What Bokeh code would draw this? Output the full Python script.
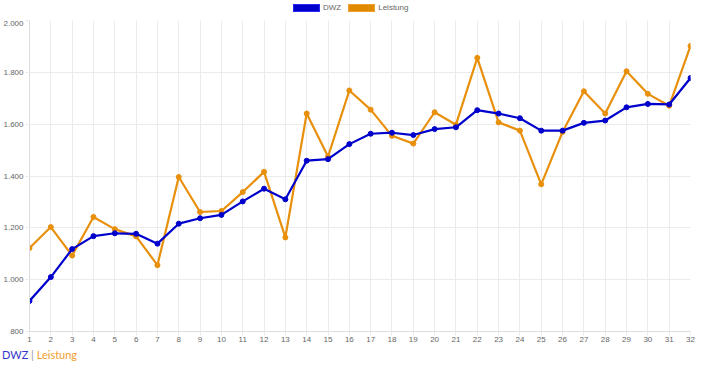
from bokeh.plotting import figure
from bokeh.models import FixedTicker, Div, Range1d
from bokeh.layouts import column
from bokeh.embed import file_html
from bokeh.resources import INLINE

rounds = list(range(1, 33))
dwz = [918, 1010, 1118, 1168, 1179, 1177, 1139, 1216, 1237, 1250, 1302, 1351,
       1310, 1459, 1465, 1523, 1563, 1567, 1558, 1581, 1588, 1654, 1641, 1623,
       1575, 1575, 1605, 1614, 1665, 1678, 1676, 1778]
leistung = [1122, 1203, 1093, 1242, 1195, 1167, 1056, 1396, 1261, 1265, 1338, 1416,
            1163, 1641, 1475, 1730, 1656, 1555, 1525, 1646, 1598, 1856, 1607, 1575,
            1368, 1570, 1727, 1641, 1804, 1717, 1671, 1902]
y_ticks = [800, 1000, 1200, 1400, 1600, 1800, 2000]
y_tick_labels = ["800", "1.000", "1.200", "1.400", "1.600", "1.800", "2.000"]
series_names = ["DWZ", "Leistung"]

BLUE = "#0000cc"
ORANGE = "#e8900c"
GRID = "#ebebeb"
TICKC = "#666666"
FONT = "Liberation Sans"

# ---- legend (HTML, above the chart) ----
box_style = ("display:inline-block;width:27px;height:8px;box-sizing:border-box;"
             "background:{fill};border:1px solid {edge};")
legend_html = (
    f'<div style="display:flex;align-items:center;height:8px;padding-top:5px;padding-left:293px;'
    f'font-family:{FONT};font-size:8px;color:{TICKC};white-space:nowrap;">'
    f'<span style="{box_style.format(fill=BLUE, edge="#2a2aee")}"></span>'
    f'<span style="margin-left:3px;">{series_names[0]}</span>'
    f'<span style="margin-left:7px;{box_style.format(fill="#e08a00", edge="#f0a030")}"></span>'
    f'<span style="margin-left:3px;">{series_names[1]}</span>'
    f'</div>'
)
legend_div = Div(text=legend_html, width=700, height=20, margin=(0, 0, 0, 0))

# ---- chart ----
p = figure(width=700, height=324, output_backend="svg", toolbar_location=None,
           x_range=Range1d(1, 32), y_range=Range1d(800, 2000),
           min_border_left=0, min_border_right=10, min_border_top=0, min_border_bottom=0)
p.outline_line_color = None
p.background_fill_color = "white"
p.border_fill_color = "white"

for ax in (p.xaxis[0], p.yaxis[0]):
    ax.axis_line_color = "#dcdcdc"
    ax.major_tick_line_color = GRID
    ax.major_tick_in = 0
    ax.major_tick_out = 4
    ax.minor_tick_line_color = None
    ax.major_label_text_font = FONT
    ax.major_label_text_font_size = "8px"
    ax.major_label_text_color = TICKC
    ax.major_label_standoff = 2
p.xaxis.major_label_standoff = 1

p.xaxis.ticker = FixedTicker(ticks=rounds)
p.yaxis.ticker = FixedTicker(ticks=y_ticks)
p.yaxis.major_label_overrides = {t: l for t, l in zip(y_ticks, y_tick_labels)}
p.xaxis.major_label_overrides = {r: str(r) for r in rounds}

p.xgrid.ticker = FixedTicker(ticks=rounds)
p.ygrid.ticker = FixedTicker(ticks=y_ticks)
p.xgrid.grid_line_color = GRID
p.ygrid.grid_line_color = GRID

# Leistung drawn first, DWZ on top
p.line(rounds, leistung, line_color=ORANGE, line_width=2.2)
p.scatter(rounds, leistung, size=5, fill_color=ORANGE, line_color=ORANGE)
p.line(rounds, dwz, line_color=BLUE, line_width=2.2)
p.scatter(rounds, dwz, size=5, fill_color=BLUE, line_color=BLUE)

# ---- caption below ----
caption = Div(text=f'<span style="color:#3535cc">{series_names[0]}</span> '
                   f'<span style="color:#999999">|</span> '
                   f'<span style="color:#f0a030">{series_names[1]}</span>',
              styles={"font-family": "Lato", "font-size": "11px", "line-height": "14px"},
              width=200, height=14, margin=(4, 0, 0, 2))

layout = column(legend_div, p, caption, spacing=0)
open("out.html", "w").write(file_html(layout, INLINE))
